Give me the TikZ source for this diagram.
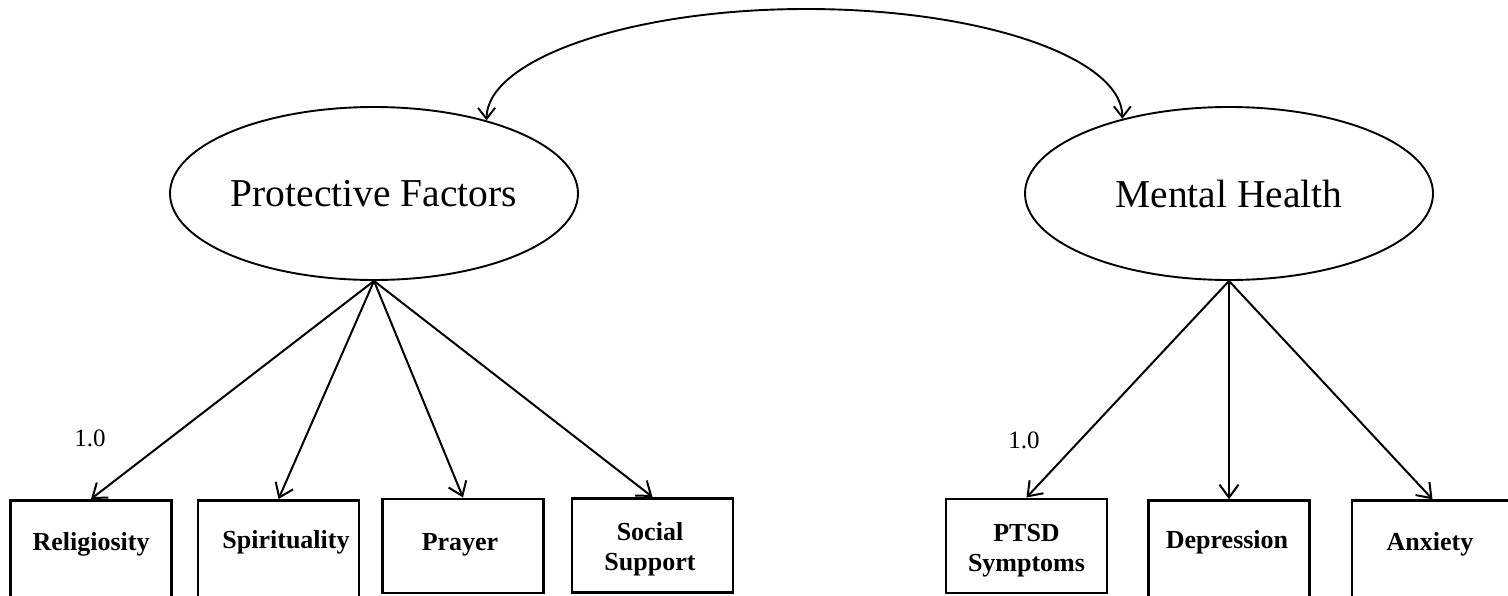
\documentclass[tikz,border=0pt]{standalone}
\usepackage{fontspec}
\setmainfont{Liberation Serif}
\usetikzlibrary{arrows.meta,shapes.geometric}

\begin{document}
\begin{tikzpicture}[x=1pt,y=-1pt,
  latent/.style={draw,ellipse,line width=1.9pt,minimum width=408pt,
    minimum height=173pt,inner sep=0pt,font=\fontsize{39.5}{44}\selectfont},
  indicator/.style={draw,rectangle,line width=2.6pt,minimum width=161pt,
    inner sep=0pt,anchor=north},
  itemtext/.style={font=\fontsize{26}{30}\selectfont\bfseries,align=center,
    anchor=base,inner sep=0pt},
  weight/.style={font=\fontsize{25}{30}\selectfont,anchor=base,inner sep=0pt},
  loading/.style={line width=2pt,
    -{Straight Barb[length=13pt,width=19pt,line width=2pt]}},
  covar/.style={line width=1.9pt,
    {Straight Barb[length=11pt,width=17pt,line width=1.9pt]}-{Straight Barb[length=11pt,width=17pt,line width=1.9pt]}}
]
\useasboundingbox (0,0) rectangle (1508,595);
\clip (0,0) rectangle (1508,595);

% latent variables
\node[latent] (pf) at (374,193.5) {Protective Factors};
\node[latent] (mh) at (1229,193.5) {Mental Health};

% observed indicators
\node[indicator,minimum height=110pt] (rel) at (91,499) {};
\node[indicator,minimum height=110pt] (spi) at (278.5,499) {};
\node[indicator,minimum height=94pt] (pra) at (463,497.5) {};
\node[indicator,minimum height=94pt] (soc) at (652.5,497) {};
\node[indicator,minimum height=94pt] (pts) at (1026.5,497.5) {};
\node[indicator,minimum height=110pt] (dep) at (1229,499.3) {};
\node[indicator,minimum height=110pt] (anx) at (1432.5,499.3) {};

% indicator labels (base = baseline of the last line)
\node[itemtext] (trel) at (91,550) {Religiosity};
\node[itemtext] (tspi) at (286,548) {Spirituality};
\node[itemtext] (tpra) at (460,550) {Prayer};
\node[itemtext] (tsoc) at (650,570) {Social\\Support};
\node[itemtext] (tpts) at (1026.5,571) {PTSD\\Symptoms};
\node[itemtext] (tdep) at (1227,548) {Depression};
\node[itemtext] (tanx) at (1430,550) {Anxiety};

% fixed loadings
\node[weight] (w1) at (90,446) {1.0};
\node[weight] (w2) at (1024,448) {1.0};

% factor loadings
\foreach \t in {rel,spi,pra,soc} \draw[loading] (pf.south) -- (\t.north);
\foreach \t in {pts,dep,anx} \draw[loading] (mh.south) -- (\t.north);

% covariance between the latent variables
\coordinate (ctop) at (806,9);
\draw[covar] (pf.33) .. controls +(0,-61) and (630,9) .. (ctop)
  .. controls (982,9) and +(0,-61) .. (mh.145);
\end{tikzpicture}
\end{document}
